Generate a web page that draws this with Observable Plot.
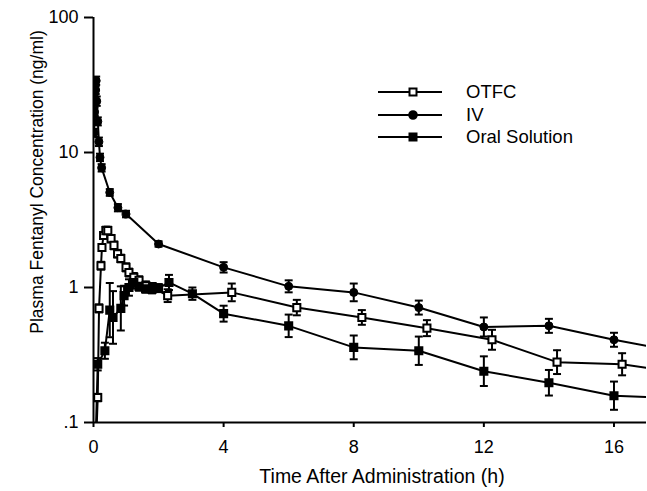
<!DOCTYPE html>
<html>
<head>
<meta charset="utf-8">
<script src="https://cdn.jsdelivr.net/npm/d3@7"></script>
<script src="https://cdn.jsdelivr.net/npm/@observablehq/plot@0.6"></script>
<style>
  body { margin: 0; background: #fff; }
  #wrap { position: relative; width: 647px; height: 491px; font-family: "Liberation Sans", Arial, sans-serif; color: #000; }
  #legend { position: absolute; left: 378px; top: 81px; font-size: 18.5px; line-height: 22.5px; }
  #legend .row { display: flex; align-items: center; height: 22.5px; }
  #legend svg { display: block; margin-right: 24px; }
</style>
</head>
<body>
<div id="wrap"><div id="legend"></div></div>
<script>
// ---- data ----
const seriesNames = ["OTFC", "IV", "Oral Solution"];

const otfcTime = [0, 0.13, 0.17, 0.23, 0.26, 0.31, 0.38, 0.44, 0.54, 0.63, 0.74, 0.84, 1.0, 1.09, 1.24, 1.40, 1.61, 1.82, 2.28, 4.25, 6.25, 8.25, 10.25, 12.25, 14.25, 16.25, 20];
const otfcConc = [0.02, 0.153, 0.70, 1.45, 1.98, 2.43, 2.64, 2.64, 2.30, 2.05, 1.78, 1.64, 1.41, 1.29, 1.19, 1.13, 1.03, 1.00, 0.87, 0.92, 0.71, 0.60, 0.50, 0.41, 0.28, 0.27, 0.20];
const otfcSE   = [0, 0.01, 0.05, 0.10, 0.12, 0.15, 0.18, 0.18, 0.15, 0.14, 0.12, 0.11, 0.10, 0.09, 0.09, 0.08, 0.08, 0.08, 0.10, 0.15, 0.10, 0.08, 0.073, 0.076, 0.063, 0.056, 0];

const ivTime = [0.017, 0.033, 0.05, 0.067, 0.083, 0.1, 0.133, 0.167, 0.2, 0.25, 0.5, 0.75, 1.0, 2.0, 4, 6, 8, 10, 12, 14, 16, 20];
const ivConc = [14, 20, 25, 29, 34, 24, 17, 12, 9.2, 7.7, 5.06, 3.9, 3.5, 2.1, 1.41, 1.02, 0.92, 0.71, 0.51, 0.52, 0.41, 0.27];
const ivSE   = [1, 1.5, 2, 2, 2.5, 2, 1.2, 0.9, 0.6, 0.5, 0.3, 0.25, 0.2, 0.1, 0.13, 0.11, 0.15, 0.09, 0.09, 0.066, 0.052, 0];

const oralTime = [0, 0.13, 0.35, 0.5, 0.6, 0.84, 0.94, 1.09, 1.24, 1.4, 1.6, 1.8, 2.0, 2.32, 3.04, 4, 6, 8, 10, 12, 14, 16, 20];
const oralConc = [0.02, 0.27, 0.34, 0.68, 0.60, 0.70, 0.87, 1.0, 1.09, 1.02, 0.98, 0.97, 0.99, 1.09, 0.90, 0.64, 0.52, 0.36, 0.34, 0.24, 0.197, 0.158, 0.143];
const oralSE   = [0, 0.03, 0.05, 0.40, 0.34, 0.32, 0.16, 0.15, 0.12, 0.08, 0.07, 0.07, 0.07, 0.15, 0.10, 0.093, 0.11, 0.081, 0.093, 0.069, 0.048, 0.043, 0];

const xTicks = [0, 4, 8, 12, 16];
const yTicks = [0.1, 1, 10, 100];
const yTickLabels = [".1", "1", "10", "100"];
const xLabel = "Time After Administration (h)";
const yLabel = "Plasma Fentanyl Concentration (ng/ml)";

// ---- build table ----
function rows(name, T, C, S) {
  return T.map((t, i) => ({series: name, t, c: C[i], se: S[i]}));
}
const data = [
  ...rows(seriesNames[0], otfcTime, otfcConc, otfcSE),
  ...rows(seriesNames[1], ivTime, ivConc, ivSE),
  ...rows(seriesNames[2], oralTime, oralConc, oralSE)
];
const errData = data.filter(d => d.se > 0).map(d => ({...d, lo: d.c * d.c / (d.c + d.se), hi: d.c + d.se}));

const capSymbol = {
  draw(context, size) {
    const w = Math.sqrt(size) / 2;
    context.moveTo(-w, 0);
    context.lineTo(w, 0);
  }
};
const symbolFor = {"OTFC": "square", "IV": "circle", "Oral Solution": "square"};
const fillFor = {"OTFC": "white", "IV": "black", "Oral Solution": "black"};

const plot = Plot.plot({
  width: 647,
  height: 491,
  marginLeft: 93,
  marginRight: 1,
  marginTop: 17,
  marginBottom: 69,
  style: {fontFamily: "'Liberation Sans', Arial, sans-serif", color: "#000", background: "#fff"},
  x: {domain: [0, 17]},
  y: {type: "log", domain: [0.1, 100]},
  marks: [
    Plot.axisX({ticks: xTicks, tickSize: 5, tickPadding: 13, strokeWidth: 2, fontSize: 18, label: null}),
    Plot.axisY({ticks: yTicks, tickSize: 9, tickPadding: 6, strokeWidth: 2, fontSize: 18,
                tickFormat: d => yTickLabels[yTicks.indexOf(d)], label: null}),
    Plot.text([xLabel], {frameAnchor: "bottom", dx: 12, dy: 60, fontSize: 19.5, textAnchor: "middle", lineAnchor: "bottom"}),
    Plot.text([yLabel], {frameAnchor: "left", rotate: -90, dx: -56, dy: -38, fontSize: 17.5, textAnchor: "middle", lineAnchor: "middle"}),
    Plot.ruleX([0], {strokeWidth: 2}),
    Plot.ruleY([0.1], {strokeWidth: 2}),
    Plot.ruleX(errData, {x: "t", y1: "lo", y2: "hi", strokeWidth: 2, clip: true}),
    Plot.dot(errData, {x: "t", y: "lo", symbol: capSymbol, r: 4.5, stroke: "black", strokeWidth: 2, clip: true}),
    Plot.dot(errData, {x: "t", y: "hi", symbol: capSymbol, r: 4.5, stroke: "black", strokeWidth: 2, clip: true}),
    Plot.line(data, {x: "t", y: "c", z: "series", stroke: "black", strokeWidth: 2, clip: true}),
    Plot.dot(data.filter(d => d.series !== "IV"), {x: "t", y: "c", symbol: d => symbolFor[d.series], r: 4,
      fill: d => fillFor[d.series], stroke: "black", strokeWidth: 2, clip: true}),
    Plot.dot(data.filter(d => d.series === "IV"), {x: "t", y: "c", symbol: "circle", r: 4,
      fill: "black", stroke: "black", strokeWidth: 1, clip: true})
  ]
});
const wrap = document.getElementById("wrap");
wrap.insertBefore(plot, wrap.firstChild);

// ---- legend ----
const legend = document.getElementById("legend");
seriesNames.forEach(name => {
  const row = document.createElement("div");
  row.className = "row";
  const ns = "http://www.w3.org/2000/svg";
  const svg = document.createElementNS(ns, "svg");
  svg.setAttribute("width", 64); svg.setAttribute("height", 14);
  const ln = document.createElementNS(ns, "line");
  ln.setAttribute("x1", 0); ln.setAttribute("x2", 64); ln.setAttribute("y1", 7); ln.setAttribute("y2", 7);
  ln.setAttribute("stroke", "black"); ln.setAttribute("stroke-width", 2);
  svg.appendChild(ln);
  let m;
  if (symbolFor[name] === "circle") {
    m = document.createElementNS(ns, "circle");
    m.setAttribute("cx", 35); m.setAttribute("cy", 7); m.setAttribute("r", 3.8);
  } else {
    m = document.createElementNS(ns, "rect");
    m.setAttribute("x", 31.5); m.setAttribute("y", 3.5); m.setAttribute("width", 7); m.setAttribute("height", 7);
  }
  m.setAttribute("fill", fillFor[name]); m.setAttribute("stroke", "black"); m.setAttribute("stroke-width", 2);
  svg.appendChild(m);
  row.appendChild(svg);
  const span = document.createElement("span");
  span.textContent = name;
  row.appendChild(span);
  legend.appendChild(row);
});
</script>
</body>
</html>
